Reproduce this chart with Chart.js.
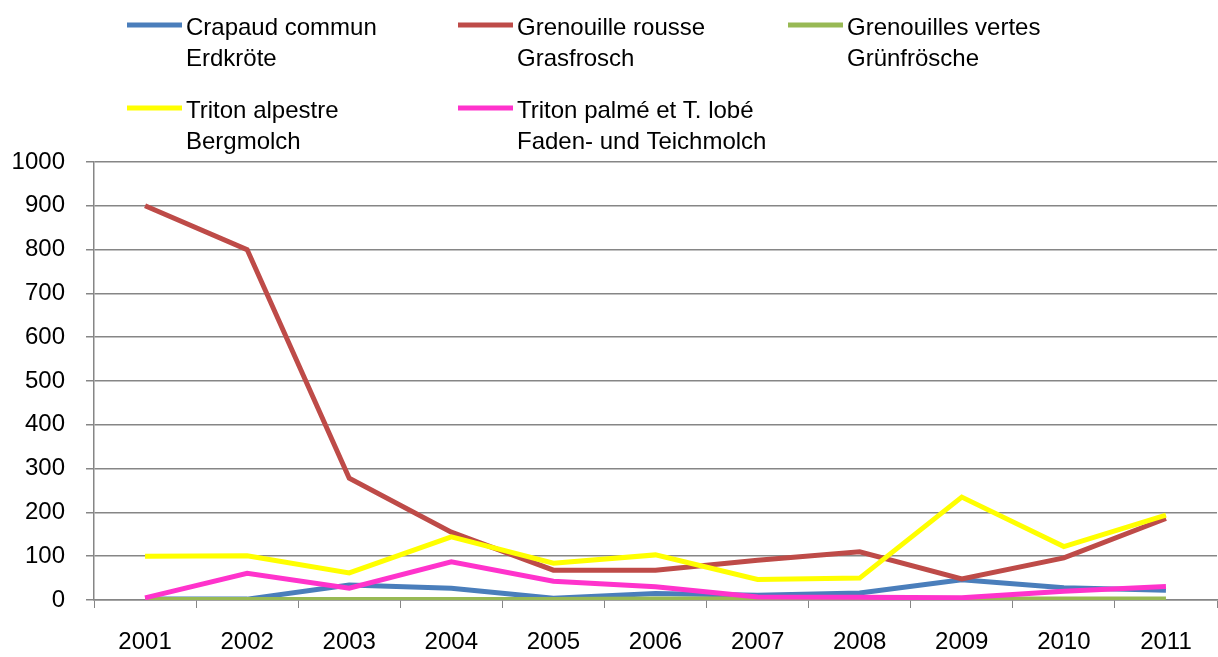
<!DOCTYPE html>
<html>
<head>
<meta charset="utf-8">
<script src="https://cdn.jsdelivr.net/npm/chart.js@4"></script>
<style>
  body { margin: 0; background: #fff; }
  #wrap { width: 1218px; height: 657px; }
</style>
</head>
<body>
<div id="wrap"><canvas id="amphibChart" width="1218" height="657"></canvas></div>
<script>
// Years on the x axis
const years = ["2001", "2002", "2003", "2004", "2005", "2006", "2007", "2008", "2009", "2010", "2011"];

// Series names (French / German)
const namesFr = ["Crapaud commun", "Grenouille rousse", "Grenouilles vertes", "Triton alpestre", "Triton palmé et T. lobé"];
const namesDe = ["Erdkröte", "Grasfrosch", "Grünfrösche", "Bergmolch", "Faden- und Teichmolch"];

// Counts
const crapaud = [2, 2, 34, 27, 4, 15, 11, 16, 46, 28, 22];
const grenouilleRousse = [900, 800, 278, 155, 68, 68, 91, 110, 48, 96, 186];
const grenouillesVertes = [1, 1, 1, 1, 1, 2, 2, 1, 2, 2, 2];
const tritonAlpestre = [100, 101, 62, 144, 84, 103, 47, 50, 235, 122, 194];
const tritonPalme = [5, 61, 27, 87, 43, 30, 7, 6, 5, 20, 31];

const colors = ["#4a7ebb", "#be4b48", "#98b954", "#ffff00", "#ff33cc"];
const seriesData = [crapaud, grenouilleRousse, grenouillesVertes, tritonAlpestre, tritonPalme];

const fontFamily = "'Liberation Sans', Arial, sans-serif";
const textFont = "24px " + fontFamily;

// Two-line legend drawn above the plot
const twoLineLegend = {
    id: "twoLineLegend",
    afterDraw(chart) {
        const ctx = chart.ctx;
        const colX = [127, 458, 788];
        const rowY = [25, 108];
        ctx.save();
        ctx.font = textFont;
        ctx.fillStyle = "#000";
        ctx.textBaseline = "alphabetic";
        chart.data.datasets.forEach((ds, i) => {
            let x = colX[i % 3];
            let y = rowY[Math.floor(i / 3)];
            ctx.strokeStyle = ds.borderColor;
            ctx.lineWidth = 5;
            ctx.beginPath();
            ctx.moveTo(x, y);
            ctx.lineTo(x + 55, y);
            ctx.stroke();
            ctx.fillText(namesFr[i], x + 59, y + 10);
            ctx.fillText(namesDe[i], x + 59, y + 41);
        });
        ctx.restore();
    }
};

const datasets = seriesData.map((values, i) => ({
    label: namesFr[i] + " " + namesDe[i],
    data: values,
    borderColor: colors[i],
    backgroundColor: colors[i],
    borderWidth: 5,
    pointRadius: 0,
    tension: 0,
    order: 5 - i // later series drawn on top
}));

const ctx = document.getElementById("amphibChart").getContext("2d");
new Chart(ctx, {
    type: "line",
    data: { labels: years, datasets: datasets },
    options: {
        responsive: false,
        animation: false,
        layout: { padding: { top: 162, right: 1, left: 0, bottom: 0 } },
        plugins: {
            legend: { display: false },
            tooltip: { enabled: false }
        },
        scales: {
            x: {
                offset: true,
                grid: {
                    offset: true,
                    drawOnChartArea: false,
                    drawTicks: true,
                    tickLength: 8,
                    color: "#868686"
                },
                border: { color: "#868686", width: 1.5 },
                ticks: {
                    color: "#000",
                    font: { family: fontFamily, size: 24 },
                    padding: 20,
                    maxRotation: 0
                },
                afterFit(scale) { scale.height = 57; }
            },
            y: {
                min: 0,
                max: 1000,
                ticks: {
                    stepSize: 100,
                    color: "#000",
                    font: { family: fontFamily, size: 24 },
                    padding: 21,
                    callback: (value) => String(value)
                },
                grid: {
                    color: "#868686",
                    lineWidth: 1.5,
                    tickLength: 8
                },
                border: { color: "#868686", width: 1.5 },
                afterFit(scale) { scale.width = 94; }
            }
        }
    },
    plugins: [twoLineLegend]
});
</script>
</body>
</html>
